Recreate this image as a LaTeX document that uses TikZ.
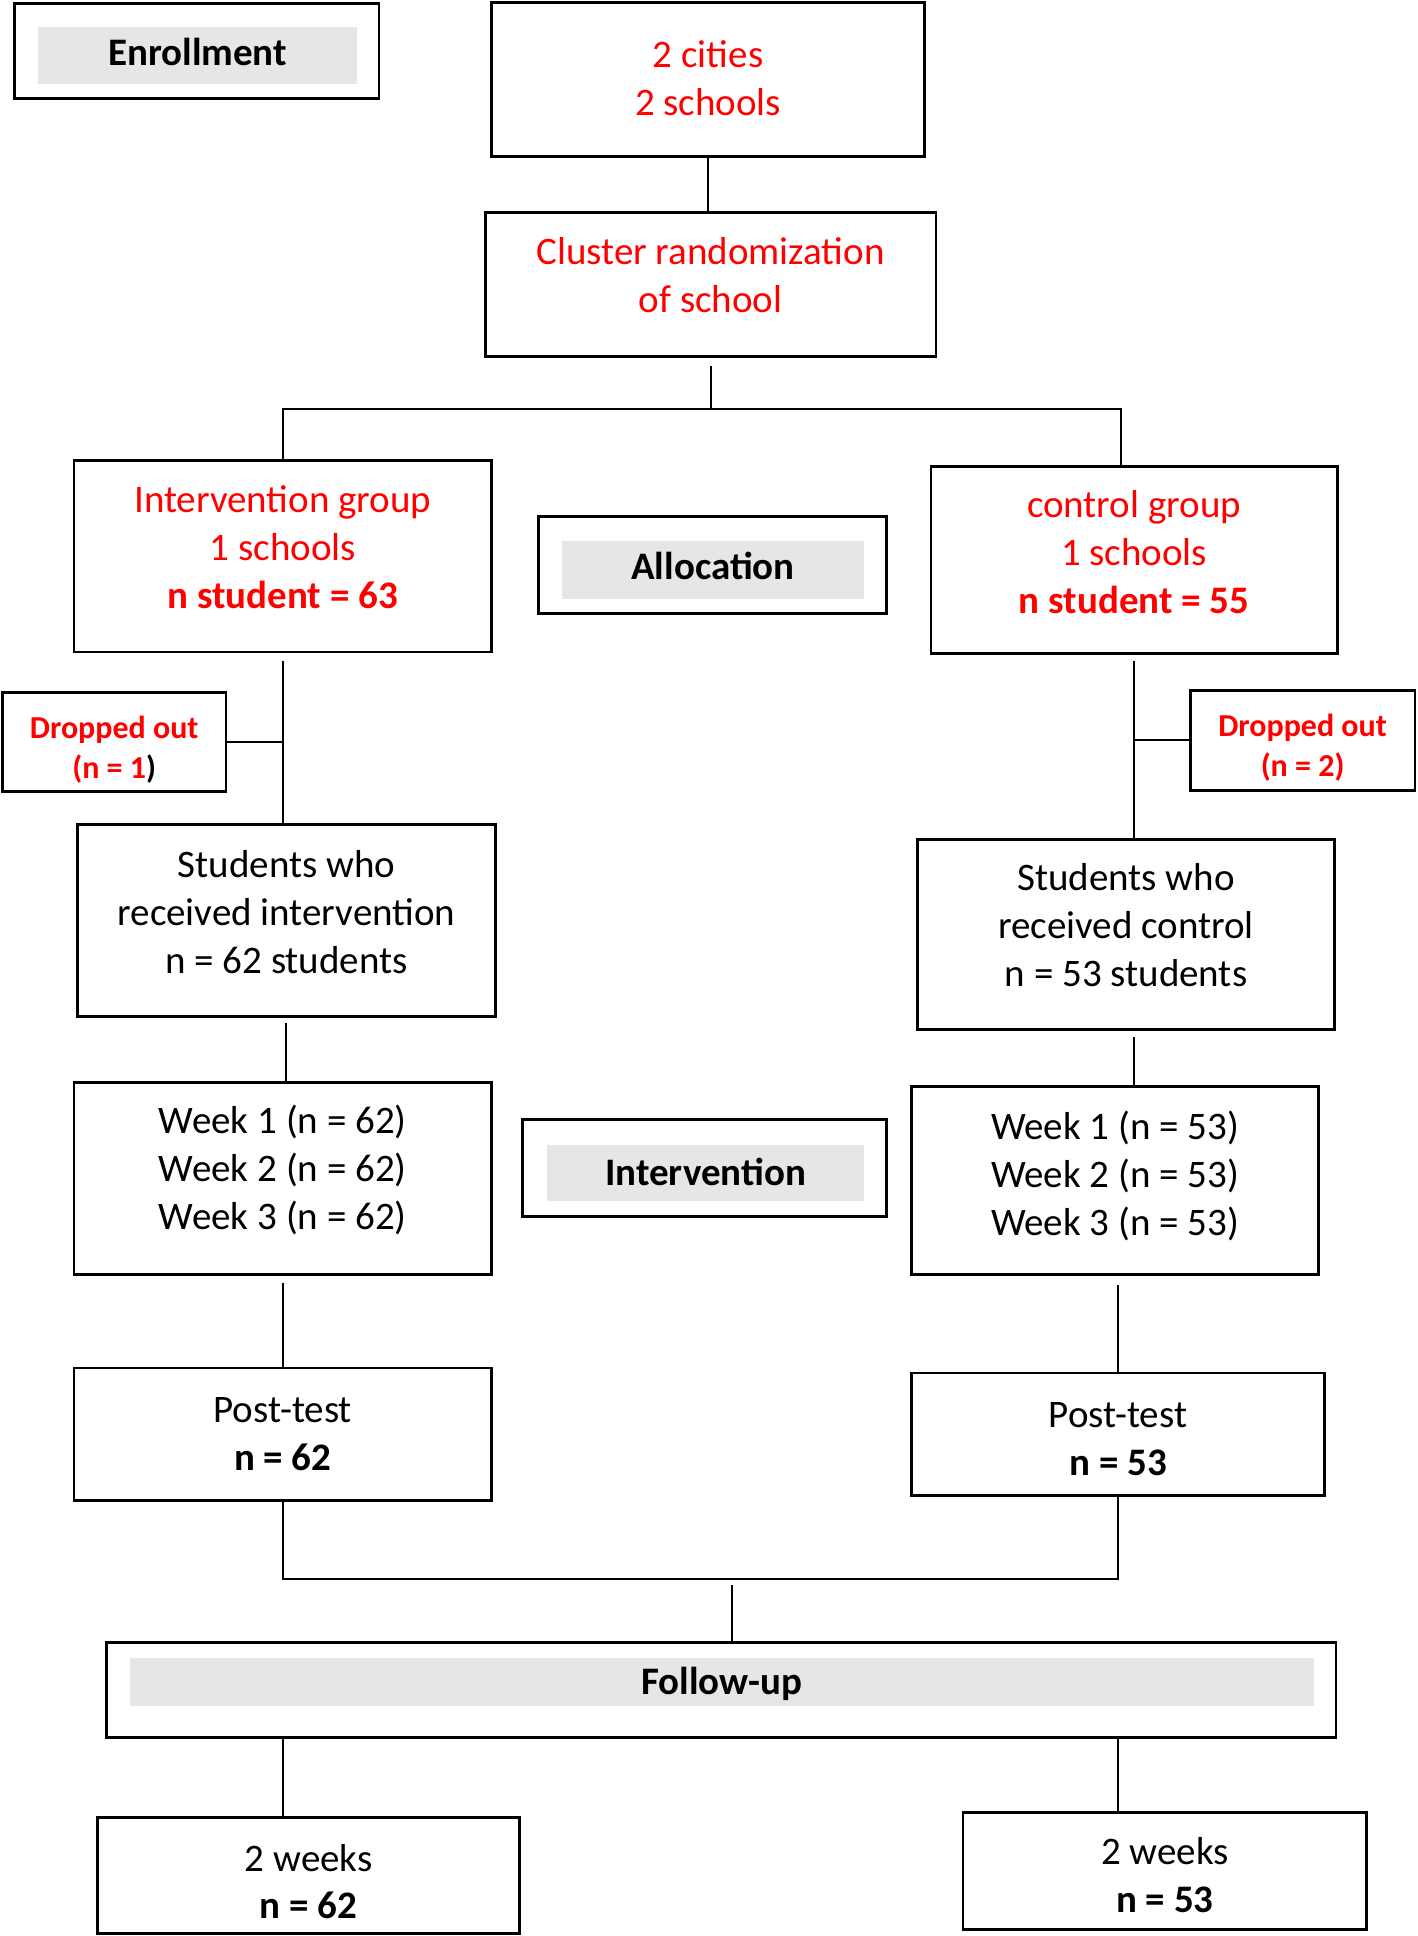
\documentclass[tikz,border=0pt]{standalone}
\usepackage{fontspec}
\setmainfont{Carlito}
\usepackage{tikz}
\usetikzlibrary{positioning, calc}
\definecolor{tagfill}{HTML}{E7E6E6}
\newlength{\pxu}
\setlength{\pxu}{0.6176pt}
\newcommand{\liftby}[2]{\raisebox{#1\pxu}[\height][\depth]{\begin{tabular}{@{}c@{}}#2\end{tabular}}}
\tikzset{
    box/.style 2 args={draw, line width=1.4pt, minimum width=#1*\pxu, minimum height=#2*\pxu,
      align=center, inner sep=0pt, font=\fontsize{19.5}{24}\selectfont},
    redbox/.style 2 args={box={#1}{#2}, text=red},
    dropbox/.style 2 args={box={#1}{#2}, text=red, font=\fontsize{16}{19.8}\selectfont\bfseries},
    tag/.style 2 args={fill=tagfill, minimum width=#1*\pxu, minimum height=#2*\pxu,
      inner sep=0pt, font=\fontsize{19.5}{24}\selectfont\bfseries},
    link/.style={line width=1pt},
}
\begin{document}
\begin{tikzpicture}[x=0.6176pt, y=-0.6176pt]
    \useasboundingbox (0,0) rectangle (1148,1568);

    % stage labels
    \node[box={295}{77}] (enroll) at (159.5,41.5) {};
    \node[tag={258}{46}] (enrolltag) at (160,45) {\liftby{0}{Enrollment}};
    \node[box={282}{79}] (alloc) at (577,457.5) {};
    \node[tag={245}{47}] (alloctag) at (577.5,461.5) {\liftby{0}{Allocation}};
    \node[box={295}{78}] (intvbox) at (570.5,946) {};
    \node[tag={257}{46}] (intvtag) at (571.5,950) {\liftby{-2}{Intervention}};
    \node[box={996}{77}] (follow) at (584,1368.5) {};
    \node[tag={959}{38}] (followtag) at (584.5,1362) {\liftby{-3}{Follow-up}};

    % flow
    \node[redbox={351}{125}] (start) at (573.5,64.5) {\liftby{-2}{2 cities\\2 schools}};
    \node[redbox={365}{117}] (rand) at (575.5,230.5) {\liftby{5}{Cluster randomization\\of school}};
    \node[redbox={338}{155}] (intv) at (229,450.5) {\liftby{4}{Intervention group\\1 schools\\\textbf{n student = 63}}};
    \node[redbox={329}{151}] (ctrl) at (918.5,453.5) {\liftby{3}{control group\\1 schools\\\textbf{n student = 55}}};
    \node[dropbox={181}{80}] (dropL) at (92.5,601) {\liftby{-7}{Dropped out\\(n = 1{\color{black})}}};
    \node[dropbox={182}{81}] (dropR) at (1055,599.5) {\liftby{-7}{Dropped out\\(n = 2)}};
    \node[box={338}{155}] (recvI) at (232,745.5) {\liftby{4}{Students who\\received intervention\\n = 62 students}};
    \node[box={338}{154}] (recvC) at (912,757) {\liftby{5}{Students who\\received control\\n = 53 students}};
    \node[box={338}{155}] (weekI) at (229,954.5) {\liftby{5}{Week 1 (n = 62)\\Week 2 (n = 62)\\Week 3 (n = 62)}};
    \node[box={330}{152}] (weekC) at (903,956) {\liftby{2}{Week 1 (n = 53)\\Week 2 (n = 53)\\Week 3 (n = 53)}};
    \node[box={338}{107}] (postI) at (229,1161.5) {\liftby{-2}{Post-test\\\textbf{n = 62}}};
    \node[box={335}{99}] (postC) at (905.5,1161.5) {\liftby{-6}{Post-test\\\textbf{n = 53}}};
    \node[box={342}{94}] (wkI) at (250,1519) {\liftby{-8}{2 weeks\\\textbf{n = 62}}};
    \node[box={327}{95}] (wkC) at (943.5,1515.5) {\liftby{-6}{2 weeks\\\textbf{n = 53}}};

    \coordinate (splitR) at (908,331);
    \coordinate (merge) at (593,1284);

    \draw[link] (start.south) -- (start.south |- rand.north);
    \draw[link] (rand.south) ++(0,6) -- (rand.south |- splitR);
    \draw[link] (intv.north) |- (splitR) -- (splitR |- ctrl.north);
    \draw[link] (intv.south) ++(0,6) -- (intv.south |- recvI.north);
    \draw[link] (dropL.east) -- (dropL.east -| intv.south);
    \draw[link] (ctrl.south) ++(0,5) -- (ctrl.south |- recvC.north);
    \draw[link] (dropR.west) -- (dropR.west -| ctrl.south);
    \draw[link] (recvI.south) ++(0,4) -- (recvI.south |- weekI.north);
    \draw[link] (ctrl.south |- recvC.south) ++(0,5) -- (ctrl.south |- weekC.north);
    \draw[link] (weekI.south) ++(0,6) -- (weekI.south |- postI.north);
    \draw[link] (postC.north |- weekC.south) ++(0,8) -- (postC.north);
    \draw[link] (postI.south) -- ++(0,63) -| (postC.south);
    \draw[link] (merge) -- (merge |- follow.north);
    \draw[link] (follow.south -| weekI) -- (weekI |- wkI.north);
    \draw[link] (follow.south -| postC) -- (postC |- wkC.north);
\end{tikzpicture}
\end{document}
